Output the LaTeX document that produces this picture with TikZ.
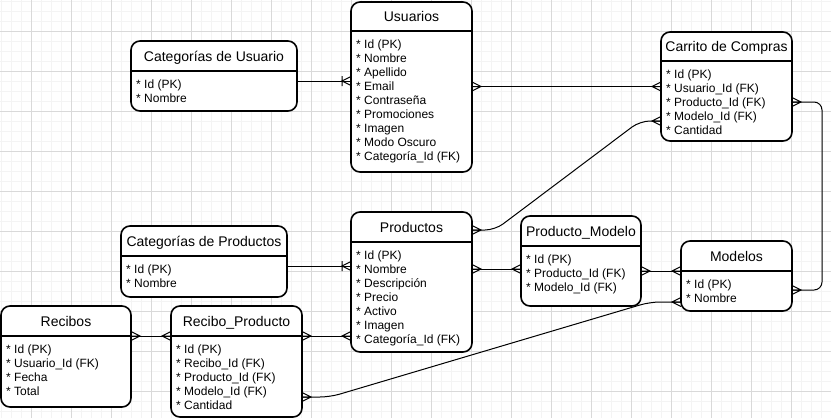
\documentclass[tikz,border=0pt]{standalone}
\usepackage{fontspec}
\setmainfont{Liberation Sans}
\newcommand\ertable[9]{%
  \node[tbl, minimum width={(#4-#2)*1bp}, minimum height={(#5-#3)*1bp}] (#1) at (#2,#3) {};
  \draw[line width=1.6bp] (#1.west |- 0,#6) -- (#1.east |- 0,#6);
  \node[ttl] (#1-t) at ({(#2+#4)/2},{(#3+#6)/2+5}) {#7};
  \node[fld] (#1-f) at (#2+5,{#6+17.5+14*(#9-1)}) {#8};
}
\newcommand\crowR[1]{\pic at (#1) {many};}
\newcommand\crowL[1]{\pic[rotate=180] at (#1) {many};}
\begin{document}
\begin{tikzpicture}[x=1bp,y=-1bp,
  tbl/.style={draw=black, line width=1.6bp, rounded corners=9bp, fill=white, inner sep=0pt, outer sep=0pt, anchor=north west},
  ttl/.style={anchor=base, inner sep=0pt, font=\fontsize{14bp}{16bp}\selectfont, text=black},
  fld/.style={anchor=base west, inner sep=0pt, align=left, font=\fontsize{12bp}{14bp}\selectfont, text=black},
  conn/.style={draw=black, line width=1bp},
  minorgrid/.style={draw=gray!9, line width=1bp},
  majorgrid/.style={draw=gray!30, line width=1bp},
  many/.pic={\draw[line width=1bp] (0,-4.5) -- (9,0) -- (0,4.5) (0,0) -- (9,0);},
  onemany/.pic={\draw[line width=1bp] (0,-4.5) -- (9,0) -- (0,4.5) (9,-5) -- (9,5);},
]
\useasboundingbox[fill=white] (0,0) rectangle (831,418);
% grid
\foreach \i in {0,...,82} \draw[minorgrid] (1.5+10*\i,0) -- (1.5+10*\i,418);
\foreach \i in {0,...,41} \draw[minorgrid] (0,1.5+10*\i) -- (831,1.5+10*\i);
\foreach \i in {0,...,19} \draw[majorgrid] (31.5+40*\i,0) -- (31.5+40*\i,418);
\foreach \i in {0,...,9} \draw[majorgrid] (0,31.5+40*\i) -- (831,31.5+40*\i);

% connectors (drawn first, boxes on top)
\draw[conn] (297,81) -- (351,81);
\draw[conn] (472,86.5) -- (661,86.5);
\draw[conn, rounded corners=8bp] (792,102) -- (822,102) -- (822,290) -- (792,290);
\draw[conn, rounded corners=10bp] (472,230) -- (495,230) -- (640,121) -- (661,121);
\draw[conn] (287,266) -- (351,266);
\draw[conn] (472,269) -- (521,269);
\draw[conn] (641,271) -- (681,271);
\draw[conn, rounded corners=10bp] (302,397) -- (330,397) -- (650,302) -- (681,302);
\draw[conn] (131,336) -- (171,336);
\draw[conn] (302,336) -- (351,336);

% tables
\ertable{catu}{131}{41}{297}{111}{71}{Categorías de Usuario}{* Id (PK)\\* Nombre}{2}
\ertable{usu}{351}{2}{472}{172}{31}{Usuarios}{* Id (PK)\\* Nombre\\* Apellido\\* Email\\* Contraseña\\* Promociones\\* Imagen\\* Modo Oscuro\\* Categoría\_Id (FK)}{9}
\ertable{car}{661}{32}{792}{141}{61}{Carrito de Compras}{* Id (PK)\\* Usuario\_Id (FK)\\* Producto\_Id (FK)\\* Modelo\_Id (FK)\\* Cantidad}{5}
\ertable{catp}{121}{226}{287}{297}{256}{Categorías de Productos}{* Id (PK)\\* Nombre}{2}
\ertable{pro}{351}{212}{472}{352}{242}{Productos}{* Id (PK)\\* Nombre\\* Descripción\\* Precio\\* Activo\\* Imagen\\* Categoría\_Id (FK)}{7}
\ertable{rec}{1}{306}{131}{407}{336}{Recibos}{* Id (PK)\\* Usuario\_Id (FK)\\* Fecha\\* Total}{4}
\ertable{rp}{171}{306}{302}{417}{336}{Recibo\_Producto}{* Id (PK)\\* Recibo\_Id (FK)\\* Producto\_Id (FK)\\* Modelo\_Id (FK)\\* Cantidad}{5}
\ertable{pm}{521}{216}{641}{306}{246}{Producto\_Modelo}{* Id (PK)\\* Producto\_Id (FK)\\* Modelo\_Id (FK)}{3}
\ertable{mod}{681}{241}{792}{311}{271}{Modelos}{* Id (PK)\\* Nombre}{2}

% markers
\pic[rotate=180] at (usu.west |- 0,81) {onemany};
\crowR{usu.east |- 0,86.5}
\crowL{car.west |- 0,86.5}
\crowR{car.east |- 0,102}
\crowR{mod.east |- 0,290}
\crowR{pro.east |- 0,230}
\crowL{car.west |- 0,121}
\pic[rotate=180] at (pro.west |- 0,266) {onemany};
\crowR{pro.east |- 0,269}
\crowL{pm.west |- 0,269}
\crowR{pm.east |- 0,271}
\crowL{mod.west |- 0,271}
\crowR{rp.east |- 0,397}
\crowL{mod.west |- 0,302}
\crowR{rec.east |- 0,336}
\crowL{rp.west |- 0,336}
\crowR{rp.east |- 0,336}
\crowL{pro.west |- 0,336}
\end{tikzpicture}
\end{document}
